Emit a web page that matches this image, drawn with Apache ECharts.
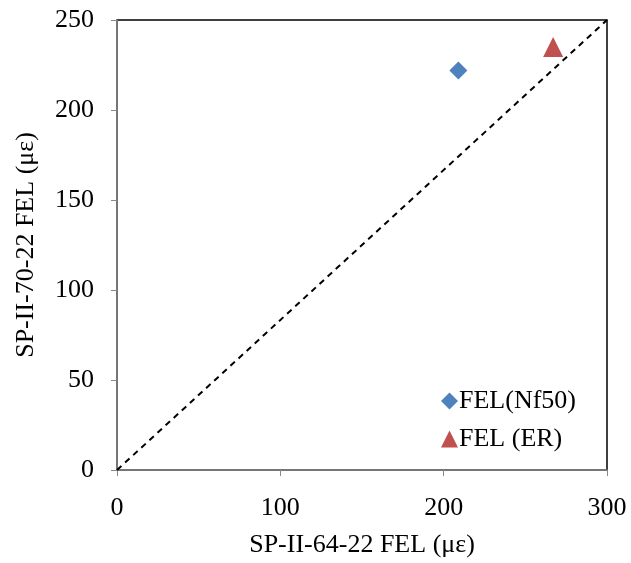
<!DOCTYPE html>
<html><head><meta charset="utf-8">
<script src="https://cdn.jsdelivr.net/npm/echarts@6/dist/echarts.min.js"></script>
<style>html,body{margin:0;padding:0;background:#fff}#c{width:631px;height:563px}</style>
</head><body><div id="c"></div>
<script>
const seriesNames = ['FEL(Nf50)', 'FEL (ER)'];
const nf50Points = [[209, 222]];
const erPoints = [[267, 235]];
const equalityLine = [[0, 0], [300, 250]];
const xTitle = 'SP-II-64-22 FEL (\u03bc\u03b5)';
const yTitle = 'SP-II-70-22 FEL (\u03bc\u03b5)';
const font = '"Liberation Serif", "Times New Roman", serif';

const chart = echarts.init(document.getElementById('c'));
chart.setOption({
  animation: false,
  textStyle: { fontFamily: font },
  grid: { left: 117, right: 24, top: 20, bottom: 92, show: true, borderColor: '#000', borderWidth: 1.5, backgroundColor: '#fff' },
  legend: {
    data: [{ name: seriesNames[0], icon: 'diamond' }, { name: seriesNames[1], icon: 'triangle' }],
    orient: 'vertical', left: 436, top: 383, itemGap: 12, itemWidth: 17, itemHeight: 17,
    textStyle: { fontFamily: font, fontSize: 26, color: '#000', padding: [0, 0, 0, -4] }
  },
  xAxis: {
    type: 'value', min: 0, max: 300, interval: 100,
    name: xTitle, nameLocation: 'middle', nameGap: 62,
    nameTextStyle: { fontFamily: font, fontSize: 26, color: '#000' },
    axisLine: { show: true, lineStyle: { color: '#898989', width: 1.5 } },
    axisTick: { show: true, inside: false, length: 6, lineStyle: { color: '#898989' } },
    axisLabel: { fontFamily: font, fontSize: 26, color: '#000', margin: 25 },
    splitLine: { show: false }
  },
  yAxis: {
    type: 'value', min: 0, max: 250, interval: 50,
    name: yTitle, nameLocation: 'middle', nameGap: 78,
    nameTextStyle: { fontFamily: font, fontSize: 26, color: '#000' },
    axisLine: { show: true, lineStyle: { color: '#898989', width: 1.5 } },
    axisTick: { show: true, inside: false, length: 6, lineStyle: { color: '#898989' } },
    axisLabel: { fontFamily: font, fontSize: 26, color: '#000', margin: 23 },
    splitLine: { show: false }
  },
  series: [
    { type: 'line', name: 'eq', data: equalityLine, symbol: 'none', silent: true,
      lineStyle: { color: '#000', width: 2, type: [6, 5] }, z: 1 },
    { type: 'scatter', name: seriesNames[0], data: nf50Points, symbol: 'diamond', symbolSize: 18,
      itemStyle: { color: '#4F81BD', opacity: 1 }, z: 3 },
    { type: 'scatter', name: seriesNames[1], data: erPoints, symbol: 'triangle', symbolSize: 20,
      itemStyle: { color: '#C0504D', opacity: 1 }, z: 3 }
  ]
});
</script></body></html>
